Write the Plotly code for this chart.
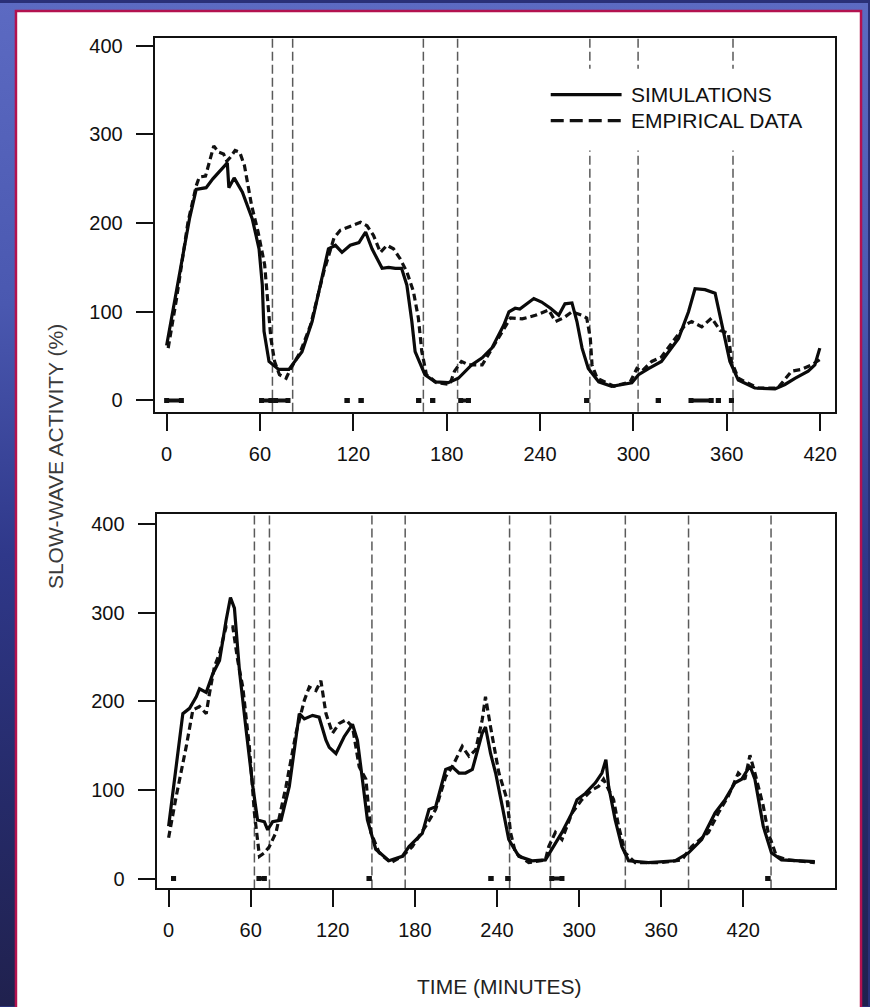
import base64
import plotly.graph_objects as go

# ---------------- data ----------------
ticks_top = [0, 60, 120, 180, 240, 300, 360, 420]
ticks_bot = [0, 60, 120, 180, 240, 300, 360, 420]
y_ticks = [0, 100, 200, 300, 400]

top_sim_t = [0, 14.7, 19, 25.4, 29.7, 36, 39, 40, 43.4, 48.7,
             55, 59.4, 61.5, 62.6, 65.8, 72, 78.6, 87, 93.5, 104,
             108.5, 112.7, 118, 123.6, 127.9, 132, 138.5, 142.7, 147, 151,
             154.4, 157.6, 159.7, 166, 172.6, 181, 187.5, 196, 202.8, 209,
             216.7, 220, 224, 227, 231.7, 236, 241, 246.7, 252, 256,
             260.5, 263.7, 267, 271, 277.7, 286, 299, 303.3, 309.7, 318,
             329, 335.4, 339.6, 346, 352.5, 356.7, 362, 367.4, 378, 391,
             397.4, 403.8, 412.3, 416.6, 419.8]
top_sim_v = [62, 205, 238, 240, 250, 263, 268, 240, 251, 235,
             205, 171, 130, 78, 44, 35, 35, 55, 89, 171,
             175, 167, 175, 178, 190, 171, 149, 150, 149, 149,
             130, 89, 55, 29, 21, 20, 25, 40, 48, 59,
             85, 100, 104, 103, 109, 115, 111, 104, 96, 109,
             110, 89, 59, 36, 21, 16, 20, 29, 36, 44,
             70, 100, 126, 125, 121, 85, 44, 23, 14, 13,
             18, 25, 33, 40, 59]

top_emp_t = [1, 6.3, 13.7, 19, 21, 25, 30.3, 33.5, 36.6, 38.7,
             40.8, 44, 47, 50, 54.6, 58.8, 63, 65, 67, 69.4,
             72.5, 76.8, 79.5, 86, 92.5, 101, 107.5, 111.6, 118, 124.6,
             128.8, 133, 137.4, 141.6, 145.8, 150, 154.4, 158.6, 161.8, 164,
             167, 173.5, 182, 185, 189.5, 194.3, 202.8, 216.7, 221, 228.5,
             237, 245.6, 249.9, 255, 260.5, 267, 270, 272.3, 273.4, 276.7,
             287.5, 298, 302.2, 305.4, 311.8, 318, 326.8, 333.2, 337.4, 343.9,
             350.3, 355.7, 361, 363, 367.4, 380, 392.8, 401.6, 408, 414.4,
             419.8]
top_emp_v = [59, 114, 201, 242, 252, 253, 287, 280, 278, 270,
             274, 282, 280, 265, 220, 190, 153, 115, 70, 44,
             29, 25, 35, 55, 85, 145, 183, 192, 196, 201,
             197, 186, 167, 175, 171, 160, 145, 123, 93, 55,
             29, 20, 18, 33, 44, 40, 40, 81, 93, 92,
             96, 102, 89, 93, 100, 96, 93, 70, 40, 25,
             16, 21, 36, 33, 44, 49, 70, 85, 89, 83,
             93, 79, 76, 44, 25, 14, 14, 33, 35, 40,
             46]

bot_sim_t = [0, 10.4, 15.3, 20.2, 22.6, 27.5, 32.3, 37.2, 42, 45.2,
             48.1, 51.8, 56.7, 61.5, 65, 70, 72.4, 76, 82.2, 88.2,
             95.5, 99.2, 105.2, 110, 115, 117.4, 122.3, 128.3, 134.4, 138,
             141.7, 145.3, 151.4, 161, 170.8, 175.7, 185.4, 190.3, 195.2, 202.5,
             207.3, 212.2, 217, 222, 229.2, 231.6, 235.3, 239, 243.8, 248.6,
             256, 265.6, 275.4, 280.2, 287.5, 294.8, 298.5, 304.6, 311.9, 316.7,
             319.6, 321.6, 326.4, 331.3, 336.2, 350.7, 370.2, 380, 389.6, 399.4,
             406.7, 414, 418.8, 424.9, 428.5, 434.6, 440.6, 447.9, 460, 472.3]
bot_sim_v = [59, 186, 192, 205, 214, 210, 231, 246, 291, 317,
             305, 234, 167, 104, 66, 64, 55, 64, 66, 104,
             186, 180, 184, 182, 156, 148, 141, 160, 174, 156,
             111, 66, 33, 20, 25, 36, 51, 78, 81, 123,
             126, 119, 119, 123, 164, 171, 141, 119, 82, 44,
             25, 20, 21, 33, 52, 74, 89, 96, 108, 119,
             134, 104, 66, 36, 20, 18, 20, 29, 44, 74,
             89, 108, 112, 127, 112, 59, 29, 21, 20, 19]

bot_emp_t = [0, 5.6, 12.9, 17.7, 22.6, 27.5, 29.9, 33.5, 37.2, 42,
             46.9, 50.5, 54.2, 59, 62.7, 66.4, 70, 73.6, 78.5, 85.8,
             93.1, 99.2, 102.8, 107.7, 111.3, 115, 119.8, 124.7, 129.6, 134.4,
             139.3, 144.2, 147.8, 153.9, 162.4, 170.8, 178.1, 187.9, 195.2, 202.5,
             207.3, 214.6, 219.5, 224.4, 229.2, 231.6, 235.3, 241.4, 247.4, 249.9,
             253.5, 263.2, 275.4, 277.8, 282.7, 287.5, 294.8, 302.1, 309.4, 314.3,
             317.9, 321.6, 325.2, 328.9, 333.7, 341, 360.4, 375, 382.3, 394.5,
             401.8, 409.1, 416.4, 421.2, 424.9, 428.5, 434.6, 438.2, 444.3, 452.8,
             472.3]
bot_emp_v = [46, 93, 149, 190, 194, 186, 209, 239, 254, 284,
             284, 246, 216, 149, 74, 25, 29, 36, 52, 104,
             164, 201, 216, 212, 223, 186, 164, 175, 179, 171,
             126, 112, 52, 29, 18, 25, 36, 59, 78, 115,
             126, 149, 138, 145, 179, 205, 171, 119, 89, 52,
             29, 18, 21, 36, 52, 44, 74, 89, 100, 104,
             112, 100, 89, 59, 29, 18, 18, 21, 36, 52,
             74, 93, 119, 112, 139, 119, 82, 52, 25, 21,
             18]

# event marks along the baseline (start, end in minutes)
top_mark_start = [0, 61, 70, 116, 125, 162, 171, 189, 270, 316, 337, 354.6, 363]
top_mark_end = [9.5, 67, 78, 116, 125, 162, 171, 194, 270, 316, 350, 354.6, 363]
bot_mark_start = [3.6, 66, 146.6, 235.6, 248, 280, 438]
bot_mark_end = [3.6, 70, 146.6, 235.6, 248, 287.5, 438]

# vertical dashed reference lines (minutes)
top_lines = [68, 81, 165, 187, 272, 303, 364]
bot_lines = [62.7, 73.7, 148.6, 172.9, 249.2, 279.1, 333.8, 380, 440.3]

series_names = ["SIMULATIONS", "EMPIRICAL DATA"]

# ---------------- layout helpers ----------------
W, H = 870, 1007
FONT = "Liberation Sans, Arial, Helvetica, sans-serif"


def px(x):
    return x / W


def py(y):
    return 1 - y / H


def marks(starts, ends):
    xs, ys = [], []
    for s, e in zip(starts, ends):
        xs += [s, e, None]
        ys += [0, 0, None]
    return xs, ys


fig = go.Figure()

panels = [
    ("x", "y", top_sim_t, top_sim_v, top_emp_t, top_emp_v, top_mark_start, top_mark_end),
    ("x2", "y2", bot_sim_t, bot_sim_v, bot_emp_t, bot_emp_v, bot_mark_start, bot_mark_end),
]
for xa, ya, st, sv, et, ev, ms, me in panels:
    fig.add_trace(go.Scatter(x=et, y=ev, xaxis=xa, yaxis=ya, mode="lines",
                             name=series_names[1],
                             line=dict(color="#111111", width=3.2, dash="7px,4px")))
    fig.add_trace(go.Scatter(x=st, y=sv, xaxis=xa, yaxis=ya, mode="lines",
                             name=series_names[0],
                             line=dict(color="#0a0a0a", width=3.2)))
    mx, my = marks(ms, me)
    fig.add_trace(go.Scatter(x=mx, y=my, xaxis=xa, yaxis=ya, mode="lines+markers",
                             name="events", line=dict(color="#111", width=4),
                             marker=dict(symbol="square", size=5, color="#111")))

axis_common = dict(showline=True, linecolor="#111", linewidth=2, mirror=True,
                   ticks="outside", ticklen=17, tickwidth=1.5, tickcolor="#111",
                   showgrid=False, zeroline=False,
                   tickfont=dict(family=FONT, size=20, color="#111"))

shapes = []
# background panel
shapes.append(dict(type="rect", xref="paper", yref="paper", x0=px(16), x1=px(863),
                   y0=-0.02, y1=py(8), fillcolor="white",
                   line=dict(color="#b3124f", width=2.5), layer="below"))
for xv in top_lines:
    shapes.append(dict(type="line", xref="x", yref="y domain", x0=xv, x1=xv, y0=0, y1=1,
                       line=dict(color="#5a5a5a", width=1.5, dash="9px,4px"), layer="below"))
for xv in bot_lines:
    shapes.append(dict(type="line", xref="x2", yref="y2 domain", x0=xv, x1=xv, y0=0, y1=1,
                       line=dict(color="#5a5a5a", width=1.5, dash="9px,4px"), layer="below"))
# legend backdrop
shapes.append(dict(type="rect", xref="paper", yref="paper", x0=px(545), x1=px(832),
                   y0=py(148), y1=py(66), fillcolor="white", line=dict(width=0), layer="above"))
# legend samples
shapes.append(dict(type="line", xref="paper", yref="paper", x0=px(552), x1=px(623),
                   y0=py(92), y1=py(92), line=dict(color="#0a0a0a", width=3.2), layer="above"))
shapes.append(dict(type="line", xref="paper", yref="paper", x0=px(552), x1=px(623),
                   y0=py(118), y1=py(118), line=dict(color="#111", width=3.2, dash="13px,6px"),
                   layer="above"))

annotations = [
    dict(text=series_names[0], xref="paper", yref="paper", x=px(630), y=py(92),
         xanchor="left", yanchor="middle", showarrow=False,
         font=dict(family=FONT, size=21, color="#111")),
    dict(text=series_names[1], xref="paper", yref="paper", x=px(630), y=py(118),
         xanchor="left", yanchor="middle", showarrow=False,
         font=dict(family=FONT, size=21, color="#111")),
    dict(text="SLOW-WAVE ACTIVITY (%)", xref="paper", yref="paper", x=px(55), y=py(455),
         textangle=-90, xanchor="center", yanchor="middle", showarrow=False,
         font=dict(family=FONT, size=21, color="#3a3a3a")),
    dict(text="TIME (MINUTES)", xref="paper", yref="paper", x=px(500), y=py(987),
         xanchor="center", yanchor="middle", showarrow=False,
         font=dict(family=FONT, size=21, color="#222")),
]

svg = ('<svg xmlns="http://www.w3.org/2000/svg" width="870" height="1007">'
       '<defs><linearGradient id="g" x1="0" y1="0" x2="0" y2="1">'
       '<stop offset="0" stop-color="#5c6ac2"/><stop offset="0.3" stop-color="#4a58b0"/>'
       '<stop offset="0.55" stop-color="#2f388a"/><stop offset="0.8" stop-color="#252a68"/>'
       '<stop offset="1" stop-color="#20214e"/></linearGradient></defs>'
       '<rect width="870" height="1007" fill="url(#g)"/></svg>')
uri = "data:image/svg+xml;base64," + base64.b64encode(svg.encode()).decode()

fig.update_layout(
    width=W, height=H, autosize=False,
    margin=dict(l=0, r=0, t=0, b=0, pad=0),
    paper_bgcolor="#2a3078", plot_bgcolor="rgba(0,0,0,0)",
    showlegend=False,
    font=dict(family=FONT, size=20, color="#111"),
    xaxis=dict(domain=[px(155), px(837)], range=[-7.7, 429.6], anchor="y",
               tickmode="array", tickvals=ticks_top, ticklabelstandoff=6, **axis_common),
    yaxis=dict(domain=[py(410.5), py(35)], range=[-12.9, 409], anchor="x",
               tickmode="array", tickvals=y_ticks, ticklabelstandoff=9, **axis_common),
    xaxis2=dict(domain=[px(157), px(837)], range=[-8.75, 487.1], anchor="y2",
                tickmode="array", tickvals=ticks_bot, ticklabelstandoff=6, **axis_common),
    yaxis2=dict(domain=[py(889), py(513)], range=[-11.2, 411.2], anchor="x2",
                tickmode="array", tickvals=y_ticks, ticklabelstandoff=9, **axis_common),
    shapes=shapes,
    annotations=annotations,
    images=[dict(source=uri, xref="paper", yref="paper", x=0, y=1, sizex=1, sizey=1,
                 xanchor="left", yanchor="top", sizing="stretch", layer="below")],
)

fig.write_html("out.html")
